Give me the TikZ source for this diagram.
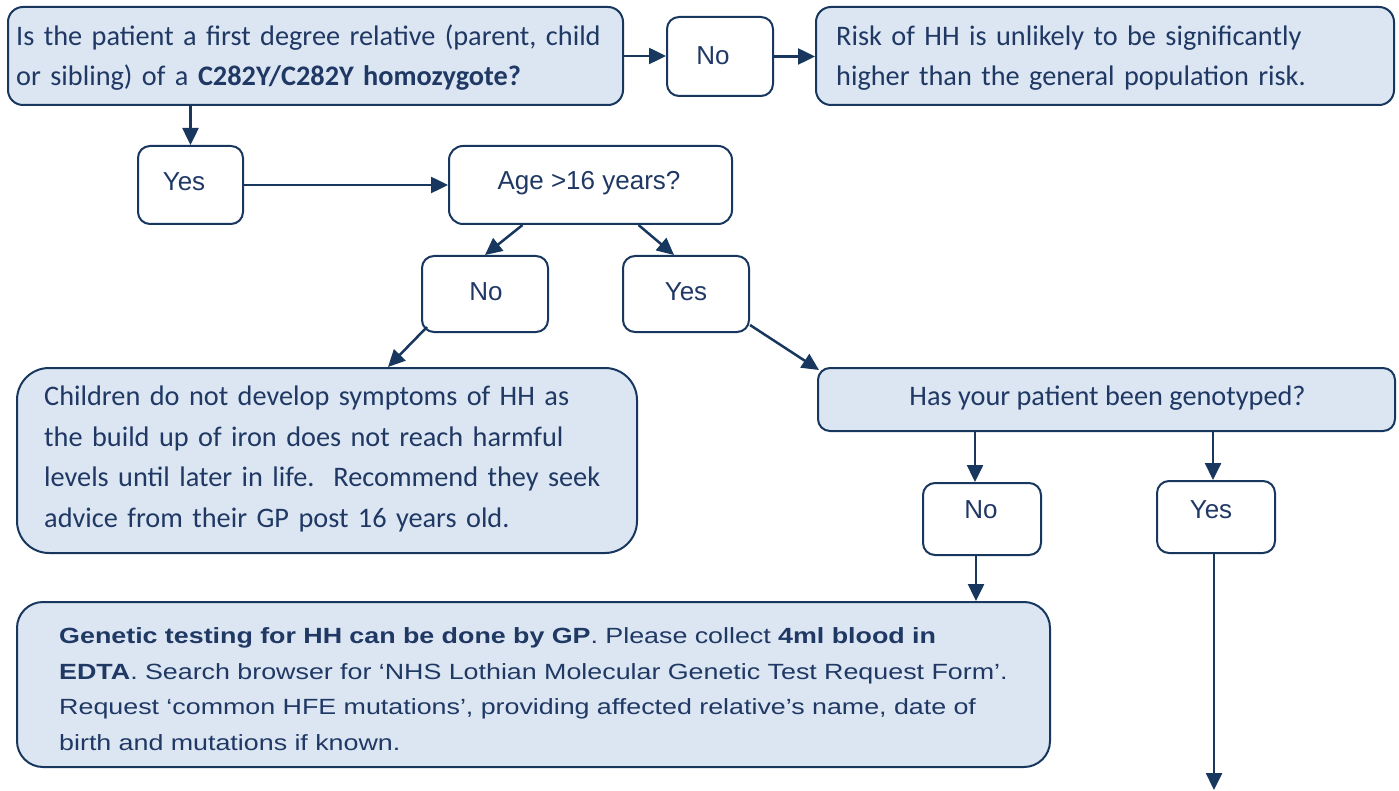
\documentclass[tikz,border=0pt]{standalone}
\usepackage{fontspec}
\usetikzlibrary{arrows.meta,calc}
\newfontfamily\calfont{Carlito}
\newfontfamily\arifont{Liberation Sans}
\newfontfamily\ariwfont[FakeStretch=1.22]{Liberation Sans}
\definecolor{navy}{RGB}{31,56,100}
\definecolor{lineblue}{RGB}{23,55,94}
\definecolor{paleblue}{RGB}{220,230,242}
\frenchspacing
\tikzset{
  box/.style={draw=lineblue, line width=2pt, rounded corners=12pt, inner sep=0pt, fill=white},
  bluebox/.style={box, fill=paleblue},
  arr/.style={draw=lineblue, line width=2.5pt, -{Triangle[length=17pt,width=16pt]}},
  yn/.style={anchor=base, inner sep=0pt, text=navy, font=\arifont\fontsize{26}{30}\selectfont},
  cal/.style={anchor=base west, inner sep=0pt, text=navy, align=left, text width=#1,
     font=\calfont\fontsize{28.3}{40.5}\selectfont},
  calc/.style={anchor=base, inner sep=0pt, text=navy, font=\calfont\fontsize{28.3}{40.5}\selectfont},
  ari/.style={anchor=base west, inner sep=0pt, text=navy, align=left, text width=#1,
     font=\ariwfont\fontsize{22}{35.5}\selectfont},
}
\begin{document}
\begin{tikzpicture}[x=1pt,y=-1pt]
\path[use as bounding box] (0,0) rectangle (1399,791);
% boxes
\node[bluebox, rounded corners=15pt, minimum width=615pt, minimum height=98pt] (q1) at (315.5,56) {};
\node[box, minimum width=106pt, minimum height=79pt] (no1) at (720,56.5) {};
\node[bluebox, rounded corners=15pt, minimum width=578pt, minimum height=98pt] (risk) at (1105,56) {};
\node[box, minimum width=105pt, minimum height=78pt] (yes1) at (190.5,185) {};
\node[box, rounded corners=14pt, minimum width=283pt, minimum height=78pt] (age) at (590.5,185) {};
\node[box, minimum width=126pt, minimum height=76pt] (no2) at (485,294) {};
\node[box, minimum width=126pt, minimum height=76pt] (yes2) at (686,294) {};
\node[bluebox, rounded corners=32pt, minimum width=620pt, minimum height=185pt] (child) at (327,460.5) {};
\node[bluebox, minimum width=577pt, minimum height=63pt] (geno) at (1106.5,399.5) {};
\node[box, minimum width=118pt, minimum height=72pt] (no3) at (982,519) {};
\node[box, minimum width=118pt, minimum height=72pt] (yes3) at (1216,517) {};
\node[bluebox, rounded corners=26pt, minimum width=1033pt, minimum height=165pt] (gen) at (533.5,684.5) {};
\coordinate (bend) at (1214,790);
% texts
\node[cal=600pt] (tq1) at (16,45.5) {Is the patient a first degree relative (parent, child\\or sibling) of a \textbf{C282Y/C282Y homozygote?}};
\node[yn] (tno1) at (713,64.5) {No};
\node[cal=560pt] (trisk) at (836,45.5) {Risk of HH is unlikely to be significantly\\higher than the general population risk.};
\node[yn] (tyes1) at (184,190.5) {Yes};
\node[yn] (tage) at (589,190) {Age >16 years?};
\node[yn] (tno2) at (486,300.5) {No};
\node[yn] (tyes2) at (686,300.5) {Yes};
\node[cal=590pt] (tchild) at (44,405.5) {Children do not develop symptoms of HH as\\the build up of iron does not reach harmful\\levels until later in life.\ \ Recommend they seek\\advice from their GP post 16 years old.};
\node[calc] (tgeno) at (1107.5,405.5) {Has your patient been genotyped?};
\node[yn] (tno3) at (981,518.5) {No};
\node[yn] (tyes3) at (1211,518.5) {Yes};
\node[ari=1000pt] (tgen) at (59,643.5) {\textbf{Genetic testing for HH can be done by GP}. Please collect \textbf{4ml blood in}\\\textbf{EDTA}. Search browser for ‘NHS Lothian Molecular Genetic Test Request Form’.\\Request ‘common HFE mutations’, providing affected relative’s name, date of\\birth and mutations if known.};
% connectors
\draw[arr] (q1.east) -- (q1.east -| no1.west);
\draw[arr] (no1.east) -- (no1.east -| risk.west);
\draw[arr] (yes1.north |- q1.south) -- (yes1.north);
\draw[arr] (yes1.east) -- (yes1.east -| age.west);
\draw[arr] ($(age.south)+(-68,0)$) -- (no2.north);
\draw[arr] ($(age.south)+(48,0)$) -- ($(yes2.north)+(-12,0)$);
\draw[arr] ($(no2.south west)+(6,-6)$) -- ($(child.north)+(61,0)$);
\draw[arr] ($(yes2.south east)+(0,-8)$) -- ($(geno.north west)+(2,3)$);
\draw[arr] ($(no3.north |- geno.south)+(-7,0)$) -- ($(no3.north)+(-7,0)$);
\draw[arr] ($(yes3.north |- geno.south)+(-3,0)$) -- ($(yes3.north)+(-3,0)$);
\draw[arr] ($(no3.south)+(-6,0)$) -- ($(gen.north -| no3.south)+(-6,0)$);
\draw[arr] ($(yes3.south)+(-2,0)$) -- (bend);
\end{tikzpicture}
\end{document}
